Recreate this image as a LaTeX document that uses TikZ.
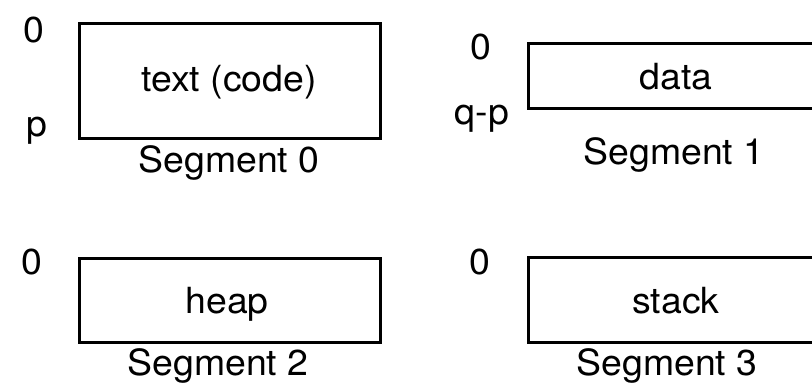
\documentclass[tikz,border=0pt]{standalone}
\usepackage{fontspec}
\setmainfont{TeX Gyre Heros}
\begin{document}
\begin{tikzpicture}[x=1pt,y=1pt,
  segbox/.style={draw, line width=3pt, rectangle, inner sep=0pt, outer sep=0pt},
  lbl/.style={anchor=base, inner sep=0pt, font=\fontsize{36}{42}\selectfont, xscale=1.04, transform shape}]
\useasboundingbox (0,0) rectangle (812,385);
\clip (0,0) rectangle (812,385);

% segment 0: code
\node[segbox, minimum width=301pt, minimum height=115pt] (box0) at (229.5,303.5) {};
\node[lbl] (txt0) at (229,293) {text (code)};
\node[lbl] (seg0) at (229,212) {Segment 0};
\node[lbl] (top0) at (34,342) {0};
\node[lbl] (bot0) at (37,248) {p};

% segment 1: data
\node[segbox, minimum width=296pt, minimum height=65pt] (box1) at (676,308.5) {};
\node[lbl] (txt1) at (676,295) {data};
\node[lbl] (seg1) at (674,220) {Segment 1};
\node[lbl] (top1) at (481,325) {0};
\node[lbl] (bot1) at (482,260) {q-p};

% segment 2: heap
\node[segbox, minimum width=301pt, minimum height=84pt] (box2) at (229.5,84) {};
\node[lbl] (txt2) at (227,71) {heap};
\node[lbl] (seg2) at (218,9) {Segment 2};
\node[lbl] (top2) at (32,110) {0};

% segment 3: stack
\node[segbox, minimum width=296pt, minimum height=85pt] (box3) at (676,84.5) {};
\node[lbl] (txt3) at (676,71) {stack};
\node[lbl] (seg3) at (667,9) {Segment 3};
\node[lbl] (top3) at (480,110) {0};
\end{tikzpicture}
\end{document}
